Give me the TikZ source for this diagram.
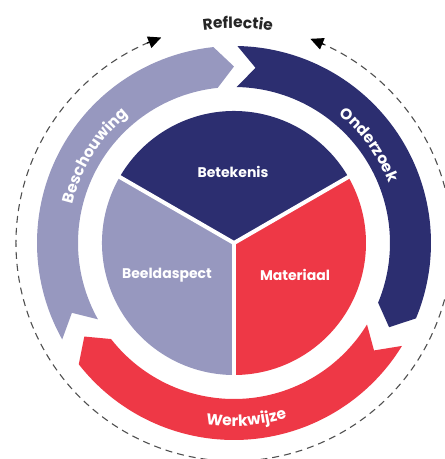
\documentclass[tikz,border=0pt]{standalone}
\usepackage{fontspec}
\setmainfont{Poppins}
\usetikzlibrary{arrows.meta, decorations.text}
\definecolor{navy}{RGB}{44,46,112}
\definecolor{lila}{RGB}{151,152,191}
\definecolor{rood}{RGB}{238,56,70}
\definecolor{grijs}{RGB}{80,80,80}
\newcommand{\ringfont}{\bfseries\fontsize{15.5}{15.5}\selectfont}

\begin{document}
\begin{tikzpicture}[x=1pt, y=1pt,
  parttext/.style={text=white, font=\bfseries\fontsize{14}{14}\selectfont},
  ringtext/.style={decorate, decoration={text along path, text align=center, text color=white, text={|\ringfont|#1}}},
  cycletip/.style={black, line width=1.2pt, -{Triangle[length=13pt, width=12pt, fill=black]}}]
\useasboundingbox (-234, -216) rectangle (211, 243);
\coordinate (centre) at (0, 0);
\fill[navy] (89:197) arc[start angle=89, end angle=-22.5, radius=197] -- (-28.5:176.5) -- (-22.5:156) arc[start angle=-22.5, end angle=89, radius=156] -- (83:176.5) -- cycle;
\fill[rood] (-31.5:197) arc[start angle=-31.5, end angle=-142, radius=197] -- (-148:176.5) -- (-142:156) arc[start angle=-142, end angle=-31.5, radius=156] -- (-37.5:176.5) -- cycle;
\fill[lila] (209.3:197) arc[start angle=209.3, end angle=96, radius=197] -- (90:176.5) -- (96:156) arc[start angle=96, end angle=209.3, radius=156] -- (203.3:176.5) -- cycle;
\fill[navy] (centre) -- (30:132) arc[start angle=30, end angle=150, radius=132] -- cycle;
\fill[rood] (centre) -- (-90:132) arc[start angle=-90, end angle=30, radius=132] -- cycle;
\fill[lila] (centre) -- (150:132) arc[start angle=150, end angle=270, radius=132] -- cycle;
\draw[white, line width=4] (centre) -- (30:134);
\draw[white, line width=4] (centre) -- (150:134);
\draw[white, line width=4] (centre) -- (270:134);
\node[parttext] (betekenis) at (-1, 71) {Betekenis};
\node[parttext] (beeldaspect) at (-67, -32) {Beeldaspect};
\node[parttext] (materiaal) at (61, -32) {Materiaal};
\draw[grijs, line width=1.1, dash pattern=on 7pt off 5pt] (67:218) arc[start angle=67, end angle=-249, radius=218];
\coordinate (tipleft) at (109.5:218);
\coordinate (tipright) at (69.5:218);
\draw[cycletip] (113.5:218) -- (tipleft);
\draw[cycletip] (65.5:218) -- (tipright);
\path[ringtext=Beschouwing] (183:166) arc[start angle=183, end angle=113, radius=166];
\path[ringtext=Onderzoek] (71:166) arc[start angle=71, end angle=1, radius=166];
\path[ringtext=Werkwijze] (-121:183) arc[start angle=-121, end angle=-51, radius=183];
\path[ringtext=Reflectie, decoration={text color=black!85}] (124:215) arc[start angle=124, end angle=54, radius=215];
\end{tikzpicture}
\end{document}
